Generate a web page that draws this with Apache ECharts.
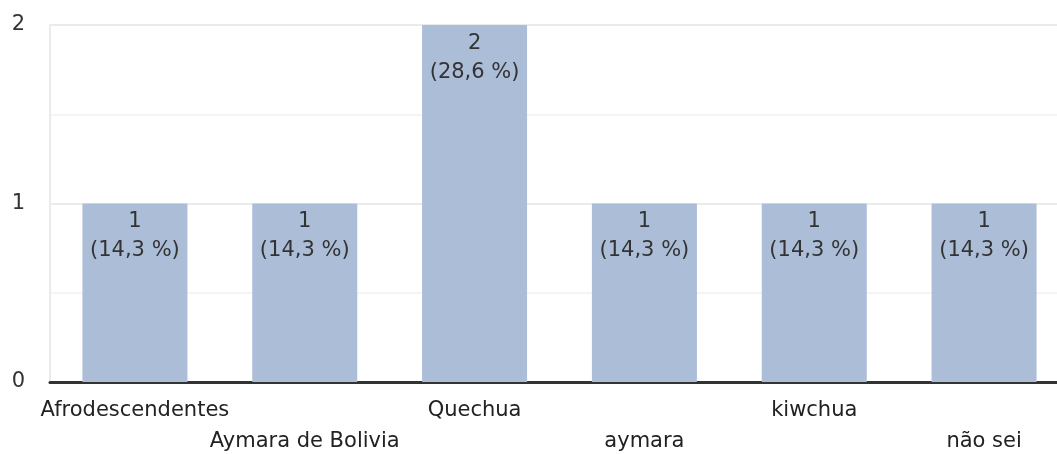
<!DOCTYPE html>
<html><head><meta charset="utf-8">
<script src="https://cdn.jsdelivr.net/npm/echarts@6/dist/echarts.min.js"></script>
<style>html,body{margin:0;padding:0;background:#fff}#c{width:1057px;height:454px}</style>
</head><body><div id="c"></div>
<script>
const categories = ['Afrodescendentes','Aymara de Bolivia','Quechua','aymara','kiwchua','não sei'];
const counts = [1,1,2,1,1,1];
const percents = ['14,3','14,3','28,6','14,3','14,3','14,3'];
const yTicks = [0,1,2];

const chart = echarts.init(document.getElementById('c'), null, {renderer:'canvas'});
chart.setOption({
  animation:false,
  textStyle:{fontFamily:'"DejaVu Sans", sans-serif'},
  grid:{left:50, right:-12, top:25, bottom:72, containLabel:false, outerBoundsMode:'none'},
  xAxis:{
    type:'category', data:categories,
    axisTick:{show:false},
    axisLine:{lineStyle:{color:'#333', width:3}},
    axisLabel:{
      interval:0, color:'#222', fontSize:21, margin:13, lineHeight:31,
      fontFamily:'"DejaVu Sans", sans-serif',
      formatter:(v,i)=> i%2===1 ? '\n'+v : v+'\n'
    }
  },
  yAxis:{
    type:'value', min:yTicks[0], max:yTicks[yTicks.length-1], interval:1,
    axisLine:{show:true, lineStyle:{color:'#ebebeb', width:2}},
    axisTick:{show:false},
    axisLabel:{color:'#333', fontSize:21, margin:25, fontFamily:'"DejaVu Sans", sans-serif'},
    splitLine:{lineStyle:{color:'#ebebeb', width:2}},
    minorTick:{show:false, splitNumber:2},
    minorSplitLine:{show:true, lineStyle:{color:'#f4f4f4', width:2}}
  },
  series:[{
    type:'bar', data:counts, barWidth:105,
    itemStyle:{color:'#abbdd7'},
    label:{
      show:true, position:'insideTop', distance:4,
      color:'#333', fontSize:21, lineHeight:29,
      fontFamily:'"DejaVu Sans", sans-serif',
      formatter:p=> p.value+'\n('+percents[p.dataIndex]+' %)'
    }
  }]
});
</script></body></html>
